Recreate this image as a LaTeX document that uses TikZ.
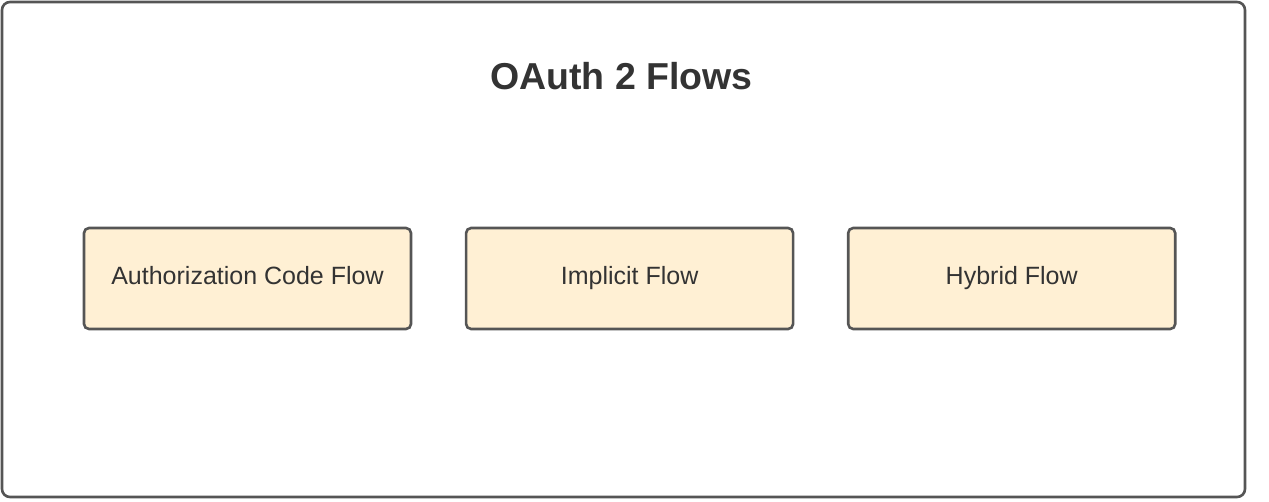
\documentclass[tikz,border=0pt]{standalone}
\usepackage{fontspec}
\setmainfont{Liberation Sans}
\usetikzlibrary{positioning}
\definecolor{flowfill}{HTML}{FFF0D4}
\definecolor{flowline}{HTML}{555555}
\definecolor{flowtext}{HTML}{333333}
\begin{document}
\begin{tikzpicture}[x=1pt, y=-1pt, node distance=52.5pt, thick]
\tikzstyle{flow} = [rectangle, draw=flowline, fill=flowfill, line width=2.6pt,
                    rounded corners=5pt, minimum width=327pt, minimum height=101pt,
                    text height=17pt, text depth=5pt,
                    text=flowtext, font=\fontsize{25}{29}\selectfont]
\tikzstyle{frame} = [draw=flowline, line width=2.6pt, rounded corners=8pt]

\useasboundingbox (0,0) rectangle (1269,501);
\path [frame] (2,2) rectangle (1245,497);

\node [text=flowtext, font=\fontsize{37.5}{42}\bfseries] (title) at (621.5,76) {OAuth 2 Flows};

\node [flow] (authcode) at (247.5,278.5) {Authorization Code Flow};
\node [flow, right=of authcode] (implicit) {Implicit Flow};
\node [flow, right=of implicit] (hybrid) {Hybrid Flow};
\end{tikzpicture}
\end{document}
